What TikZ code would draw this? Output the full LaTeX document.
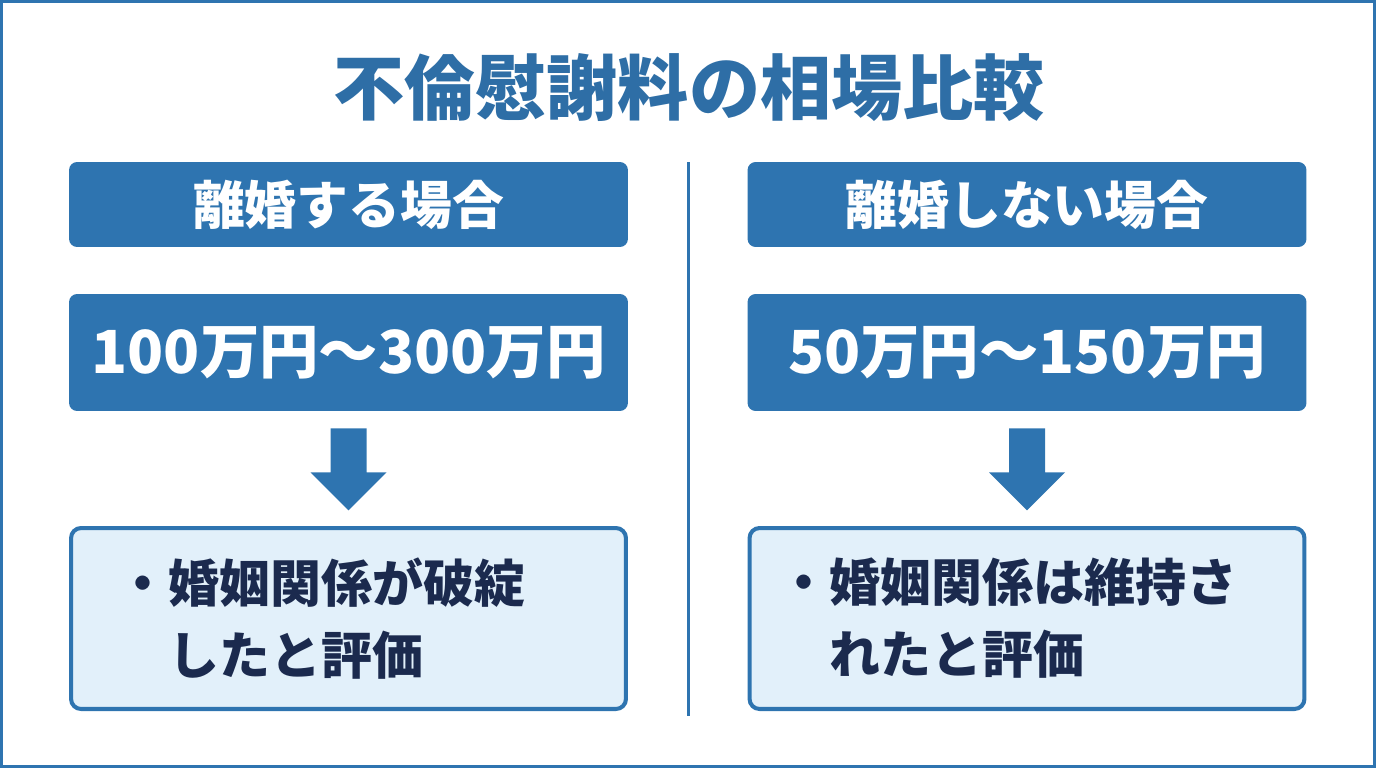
\documentclass[tikz,border=0pt]{standalone}
\usepackage{fontspec}
\setmainfont{Noto Sans CJK JP}
\usepackage{tikz}
\usetikzlibrary{calc}
\definecolor{mainblue}{HTML}{2E74B0}
\definecolor{titleblue}{HTML}{2E6EA6}
\definecolor{paleblue}{HTML}{E2F0FA}
\definecolor{navy}{HTML}{1B2A4E}
\def\fatarrow(#1){\fill[mainblue] ($(#1)+(-18,0)$) -- ++(36,0) -- ++(0,44) -- ++(20,0) -- ++(-38,38) -- ++(-38,-38) -- ++(20,0) -- cycle;}
\tikzset{
  headbox/.style={fill=mainblue, rounded corners=0.16cm, minimum width=11.18cm, minimum height=1.7cm, text=white, font=\fontsize{29.5}{32}\selectfont\bfseries},
  sumbox/.style={fill=mainblue, rounded corners=0.16cm, minimum width=11.18cm, minimum height=2.34cm, text=white, font=\fontsize{33.8}{38}\selectfont\bfseries},
  notebox/.style={fill=paleblue, draw=mainblue, line width=2.3pt, rounded corners=0.2cm, minimum width=11.1cm, minimum height=3.62cm},
  notetext/.style={text=navy, align=left, anchor=west, inner sep=0pt, font=\fontsize{29}{41}\selectfont\bfseries}
}

\begin{document}
\begin{tikzpicture}[x=0.02cm, y=-0.02cm]
			%%%%% START %%%%%
			
			\useasboundingbox (0, 0) rectangle (1376, 768);
			\draw[mainblue, line width=1.7pt] (1.5, 1.5) rectangle (1374.5, 766.5);
			
			\node[text=titleblue, font=\fontsize{40.5}{44}\selectfont\bfseries] (title) at (689, 88) {不倫慰謝料の相場比較};
			
			\draw[mainblue, line width=1.7pt] (688, 162) -- (688, 716);
			
			\node[headbox] (head1) at (348.5, 204.5) {離婚する場合};
			\node[headbox] (head2) at (1027, 204.5) {離婚しない場合};
			
			\node[sumbox] (sum1) at (348.5, 352.5) {100万円～300万円};
			\node[sumbox] (sum2) at (1027, 352.5) {50万円～150万円};
			
			\coordinate (arr1) at ($(sum1.south)+(0,17)$);
			\coordinate (arr2) at ($(sum2.south)+(0,17)$);
			\fatarrow(arr1)
			\fatarrow(arr2)
			
			\node[notebox] (note1) at (348.5, 618.5) {};
			\node[notebox] (note2) at (1027, 618.5) {};
			
			\node[notetext] (text1) at ($(note1.west)+(48,0)$) {・婚姻関係が破綻\\\hspace*{1em}したと評価};
			\node[notetext] (text2) at ($(note2.west)+(31,0)$) {・婚姻関係は維持さ\\\hspace*{1em}れたと評価};
			
			%%%%% END %%%%%
		\end{tikzpicture}
\end{document}
